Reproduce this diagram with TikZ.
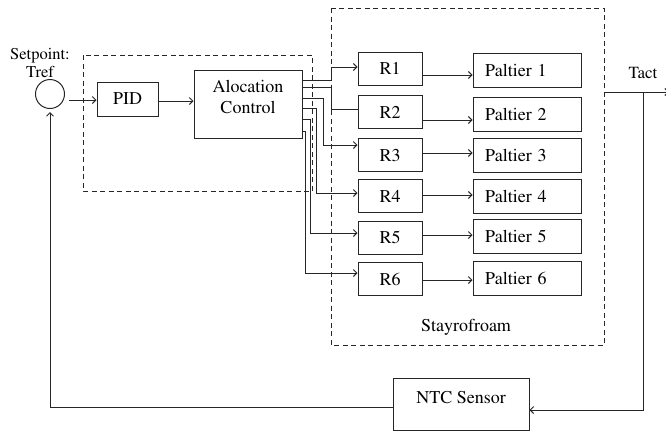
\documentclass[tikz,border=0pt]{standalone}
\usepackage[T1]{fontenc}
\usepackage{mathptmx}
\usetikzlibrary{arrows.meta,calc}

\begin{document}
\begin{tikzpicture}[x=1pt,y=-1pt,line width=1pt,draw=black!85,
        font=\rmfamily\fontsize{18}{21}\selectfont,
        blk/.style={draw,rectangle,inner sep=0pt},
        pbox/.style={blk,text width=84pt,inner xsep=12pt,minimum height=34pt,align=left},
        rbox/.style={blk,minimum width=64pt,minimum height=33pt},
        grp/.style={draw,dash pattern=on 5pt off 3.5pt}]
            \useasboundingbox (0,0) rectangle (666,432);
            \draw[grp] (83,55) rectangle (312,191);
            \draw[grp] (331,8) rectangle (604,345);
            \node (stay) at (466,327) {Stayrofroam};
            \node[circle,draw,minimum size=29pt,inner sep=0pt] (sum) at (50,94) {};
            \node[align=center,font=\rmfamily\fontsize{16.5}{18}\selectfont] (setp) at (40,63) {Setpoint:\\Tref};
            \node[blk,minimum width=61pt,minimum height=34pt] (pid) at (127.5,99) {PID};
            \node[blk,minimum width=108pt,minimum height=68pt] (ctrl) at (248,104) {};
            \node[align=center] (ctrltxt) at (248,97) {Alocation\\Control};
            \foreach \i/\ry/\py in {1/68.5/70,2/112/114,3/155/155,4/196/196,5/237.5/236,6/279/278.5}{
                \node[rbox] (r\i) at (390,\ry) {R\i};
                \node[pbox] (p\i) at (527,\py) {Paltier \i};
            }
            \node[blk,minimum width=136pt,minimum height=52pt] (ntc) at (461,404) {};
            \node (ntctxt) at (461,397) {NTC Sensor};
            \node[font=\rmfamily\fontsize{17}{20}\selectfont] (tact) at (643,73) {Tact};
            \coordinate (tout) at (669,92);
            \coordinate (tap) at (643,92);
            \begin{scope}[->,>={Straight Barb[length=3.5pt,width=7pt]}]
                \draw[shorten <=4pt] (sum.east |- 0,100) -- (pid.west |- 0,100);
                \draw (pid.east |- 0,101) -- (ctrl.west |- 0,101);
                \foreach \i/\oy/\vx/\iy in {1/80/331/67,3/98/323/145,4/108/316/193,5/119/310/233,6/131/305/273}
                    \draw (ctrl.east |- 0,\oy) -| (\vx,\iy) -- (r\i.west |- 0,\iy);
                \foreach \i/\ay in {1/75,2/120,3/153,4/195,5/235,6/280}
                    \draw (r\i.east |- 0,\ay) -- (p\i.west |- 0,\ay);
                \draw (604,92) -- (tout);
                \draw (tap) |- (ntc.east |- 0,410);
                \draw[shorten >=3pt] (ntc.west |- 0,407) -| (sum.south);
            \end{scope}
            \draw (ctrl.east |- 0,87) -| (331,109) -- (r2.west |- 0,109);
        \end{tikzpicture}
\end{document}
